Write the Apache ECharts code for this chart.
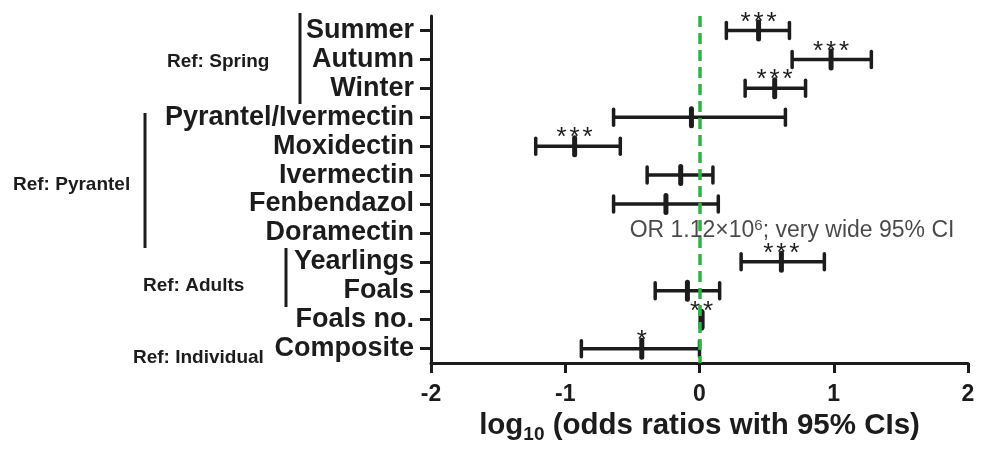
<!DOCTYPE html>
<html>
<head>
<meta charset="utf-8">
<script src="https://cdn.jsdelivr.net/npm/echarts@6/dist/echarts.min.js"></script>
<style>html,body{margin:0;padding:0;background:#fff;}#c{width:987px;height:449px;}#err{position:absolute;left:450px;top:20px;font:10px monospace;color:red;white-space:pre;}</style>
</head>
<body>
<div id="c"></div>
<div id="err"></div>
<script>
const categories = ['Summer','Autumn','Winter','Pyrantel/Ivermectin','Moxidectin','Ivermectin','Fenbendazol','Doramectin','Yearlings','Foals','Foals no.','Composite'];
const lower    = [0.20, 0.69, 0.34, -0.64, -1.22, -0.39, -0.64, null, 0.31, -0.33, 0.005, -0.88];
const estimate = [0.44, 0.98, 0.56, -0.06, -0.93, -0.14, -0.25, null, 0.61, -0.09, 0.015, -0.43];
const upper    = [0.67, 1.28, 0.79, 0.64, -0.59, 0.10, 0.14, null, 0.93, 0.15, 0.025, 0.00];
const significance = ['***','***','***','','***','','','','***','','**','*'];
const xTicks = [-2, -1, 0, 1, 2];
const groupNames = ['Ref: Spring', 'Ref: Pyrantel', 'Ref: Adults', 'Ref: Individual'];
const noteRow = 'Doramectin';
const noteX = -0.52;

const FONT = '"Liberation Sans", Arial, Helvetica, sans-serif';
const INK = '#1c1c1c';

const data = [];
categories.forEach((c, i) => {
  if (estimate[i] === null) return;
  data.push([lower[i], estimate[i], upper[i], i]);
});

try {
const chart = echarts.init(document.getElementById('c'));
chart.setOption({
  animation: false,
  backgroundColor: '#fff',
  grid: { left: 431, right: 19, top: 16, bottom: 77 },
  xAxis: {
    type: 'value', min: xTicks[0], max: xTicks[xTicks.length - 1], interval: 1,
    splitLine: { show: false },
    axisLine: { show: true, onZero: false, lineStyle: { color: INK, width: 3 } },
    axisTick: { show: true, length: 10, lineStyle: { color: INK, width: 3 } },
    axisLabel: { color: INK, fontFamily: FONT, fontWeight: 'bold', fontSize: 23, margin: 20 },
    name: '{a|log}{b|10}{a| (odds ratios with 95% CIs)}',
    nameLocation: 'middle', nameGap: 42,
    nameTextStyle: {
      rich: {
        a: { fontFamily: FONT, fontWeight: 'bold', fontSize: 29.5, color: INK, lineHeight: 36 },
        b: { fontFamily: FONT, fontWeight: 'bold', fontSize: 19, color: INK, lineHeight: 16, verticalAlign: 'bottom' }
      }
    }
  },
  yAxis: {
    type: 'category', data: categories, inverse: true,
    axisLine: { show: true, onZero: false, lineStyle: { color: INK, width: 3 } },
    axisTick: { show: true, alignWithLabel: true, interval: 0, length: 11, lineStyle: { color: INK, width: 3 } },
    axisLabel: { interval: 0, color: INK, fontFamily: FONT, fontWeight: 'bold', fontSize: 27, margin: 17 },
    splitLine: { show: false }
  },
  series: [{
    type: 'custom',
    data: data,
    encode: { x: [0, 1, 2], y: 3 },
    renderItem: function (params, api) {
      const y = api.value(3);
      const pl = api.coord([api.value(0), y]);
      const pm = api.coord([api.value(1), y]);
      const ph = api.coord([api.value(2), y]);
      const st = { stroke: INK, lineWidth: 3.5, lineCap: 'round' };
      const children = [
        { type: 'line', shape: { x1: pl[0], y1: pl[1], x2: ph[0], y2: ph[1] }, style: { stroke: INK, lineWidth: 3.5 } },
        { type: 'line', shape: { x1: pl[0], y1: pl[1] - 8, x2: pl[0], y2: pl[1] + 8 }, style: st },
        { type: 'line', shape: { x1: ph[0], y1: ph[1] - 8, x2: ph[0], y2: ph[1] + 8 }, style: st },
        { type: 'line', shape: { x1: pm[0], y1: pm[1] - 8.5, x2: pm[0], y2: pm[1] + 8.5 }, style: { stroke: INK, lineWidth: 5, lineCap: 'round' } }
      ];
      const s = significance[y];
      const n = s.length;
      for (let k = 0; k < n; k++) {
        children.push({ type: 'text', x: pm[0] + (k - (n - 1) / 2) * 13, y: pm[1] - 8,
          style: { text: '*', fill: INK, font: '26px ' + FONT, textAlign: 'center', textVerticalAlign: 'middle' } });
      }
      return { type: 'group', children: children };
    },
    z: 3
  }, {
    type: 'scatter', symbolSize: 0, silent: true,
    data: [[noteX, categories.indexOf(noteRow)]],
    label: { show: true, position: 'right', distance: 0, offset: [0, -2],
      formatter: '{a|OR 1.12×10}{s|6}{a|; very wide 95% CI}',
      rich: {
        a: { fontFamily: FONT, fontSize: 23, color: INK, lineHeight: 26 },
        s: { fontFamily: FONT, fontSize: 15, color: INK, lineHeight: 17, verticalAlign: 'top' }
      }
    },
    markLine: {
      silent: true, symbol: 'none', label: { show: false },
      lineStyle: { color: '#2fb344', width: 3.5, type: [11, 6] },
      data: [{ xAxis: 0 }]
    },
    z: 4
  }],
  graphic: [
    { type: 'line', shape: { x1: 300, y1: 13, x2: 300, y2: 104 }, style: { stroke: INK, lineWidth: 3 } },
    { type: 'line', shape: { x1: 145, y1: 113, x2: 145, y2: 248 }, style: { stroke: INK, lineWidth: 3 } },
    { type: 'line', shape: { x1: 286, y1: 248, x2: 286, y2: 307 }, style: { stroke: INK, lineWidth: 3 } },
    { type: 'text', x: 167, y: 62, style: { text: groupNames[0], font: 'bold 19px ' + FONT, fill: INK, textVerticalAlign: 'middle' } },
    { type: 'text', x: 13, y: 185, style: { text: groupNames[1], font: 'bold 19px ' + FONT, fill: INK, textVerticalAlign: 'middle' } },
    { type: 'text', x: 143, y: 286, style: { text: groupNames[2], font: 'bold 19px ' + FONT, fill: INK, textVerticalAlign: 'middle' } },
    { type: 'text', x: 133, y: 358, style: { text: groupNames[3], font: 'bold 19px ' + FONT, fill: INK, textVerticalAlign: 'middle' } }
  ]
});
} catch (e) { document.getElementById('err').textContent = String(e.stack || e).slice(0, 1500); }
</script>
</body>
</html>
